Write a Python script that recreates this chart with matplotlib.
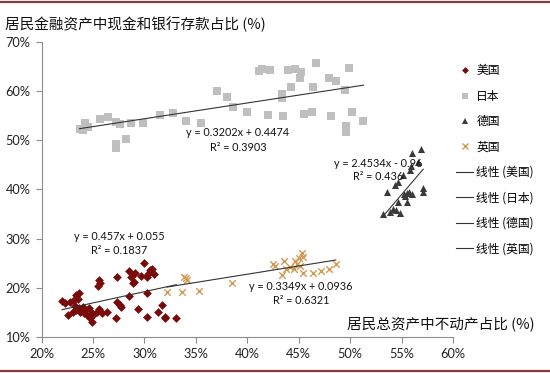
import matplotlib
matplotlib.use("Agg")
import matplotlib.pyplot as plt
from matplotlib.lines import Line2D
import numpy as np

plt.rcParams['font.family'] = ['Lato', 'Noto Sans CJK SC', 'DejaVu Sans']

# ---------------- data (percent) ----------------
us_x = [22.0, 22.3, 22.8, 23.2, 23.4, 23.6, 23.5, 22.6, 23.1, 23.4, 23.6, 23.7, 23.8, 24.1, 24.2,
        24.4, 24.7, 24.9, 24.9, 25.0, 24.6, 25.4, 25.6, 25.9, 26.4, 25.6, 25.7, 25.5, 27.3, 27.3,
        27.7, 27.6, 27.2, 28.5, 28.7, 29.1, 28.9, 29.0, 30.0, 29.7, 30.4, 30.5, 30.7, 30.9, 30.3,
        28.5, 30.3, 29.4, 30.3, 31.3, 32.0, 32.0, 33.1, 31.7, 24.0, 23.3]
us_y = [17.4, 17.0, 17.2, 17.6, 18.5, 18.9, 17.8, 14.5, 15.1, 15.5, 15.8, 15.1, 15.4, 14.8, 15.5,
        14.5, 13.8, 13.1, 14.8, 14.5, 15.8, 15.1, 15.6, 14.9, 15.1, 21.6, 20.9, 20.3, 22.2, 17.2,
        16.1, 16.6, 13.8, 23.4, 22.1, 23.0, 20.9, 21.2, 25.0, 22.4, 22.9, 23.6, 23.9, 22.9, 22.1,
        18.3, 18.9, 15.6, 14.1, 15.1, 14.1, 13.9, 13.8, 16.6, 16.0, 16.4]

jp_x = [23.7, 24.2, 24.0, 24.5, 25.7, 26.5, 27.2, 27.2, 27.2, 27.6, 28.2, 28.7, 29.9, 31.5, 32.8,
        34.0, 35.5, 37.1, 38.0, 38.6, 40.0, 41.1, 41.4, 42.2, 42.0, 44.0, 44.6, 45.2, 45.1, 46.7,
        49.9, 44.3, 43.4, 43.4, 46.4, 47.9, 48.6, 49.5, 43.5, 45.5, 46.3, 48.1, 50.2, 51.3, 49.6,
        49.6]
jp_y = [52.2, 53.4, 52.0, 52.6, 54.2, 54.6, 53.6, 48.5, 49.2, 53.2, 50.2, 53.4, 53.5, 55.2, 55.5,
        53.8, 53.5, 59.9, 58.7, 56.7, 55.7, 64.0, 64.4, 64.3, 55.2, 64.2, 64.4, 63.8, 62.7, 65.6,
        64.6, 60.7, 59.3, 58.5, 60.7, 62.6, 62.0, 60.1, 55.0, 55.4, 55.8, 54.9, 55.7, 53.9, 52.9,
        51.6]

de_x = [56.0, 56.9, 56.6, 55.1, 55.8, 55.9, 54.4, 54.7, 53.6, 55.2, 55.5, 55.7, 56.0, 57.1, 57.1,
        54.7, 55.5, 54.2, 54.5, 54.8, 53.9, 53.2, 55.3]
de_y = [47.4, 48.1, 45.5, 43.0, 43.9, 44.8, 40.8, 41.5, 39.5, 39.0, 39.3, 39.5, 39.1, 40.2, 39.5,
        37.4, 37.4, 36.1, 35.8, 35.1, 35.4, 34.9, 38.6]

uk_x = [32.2, 33.7, 33.9, 34.1, 34.0, 35.3, 38.5, 42.5, 42.7, 43.6, 43.4, 43.8, 44.2, 44.6, 44.8,
        45.0, 45.3, 45.4, 45.1, 44.5, 45.4, 46.4, 47.2, 47.9, 48.6]
uk_y = [19.2, 19.1, 22.2, 21.6, 21.9, 19.3, 21.0, 24.9, 24.4, 25.5, 22.6, 23.9, 24.3, 25.5, 24.8,
        26.0, 27.0, 26.3, 24.4, 23.9, 23.1, 23.1, 23.4, 23.9, 24.8]

# trend-line coefficients shown in the chart (fraction units)
us_fit = (0.457, 0.055, 0.1837)
jp_fit = (0.3202, 0.4474, 0.3903)
de_fit = (2.4534, -0.96, 0.436)
uk_fit = (0.3349, 0.0936, 0.6321)

eq_texts = {
    'us': ("y = 0.457x + 0.055", "R² = 0.1837"),
    'jp': ("y = 0.3202x + 0.4474", "R² = 0.3903"),
    'de': ("y = 2.4534x - 0.96", "R² = 0.436"),
    'uk': ("y = 0.3349x + 0.0936", "R² = 0.6321"),
}

names = ['美国', '日本', '德国', '英国']
x_ticks = [20, 25, 30, 35, 40, 45, 50, 55, 60]
y_ticks = [10, 20, 30, 40, 50, 60, 70]
title = '居民金融资产中现金和银行存款占比 (%)'
xlabel = '居民总资产中不动产占比 (%)'

# ---------------- figure ----------------
W, H = 550, 373
fig = plt.figure(figsize=(W / 100, H / 100), dpi=100)
fig.patch.set_facecolor('white')

def fx(px):
    return px / W

def fy(py):
    return 1 - py / H

ax = fig.add_axes([fx(41.5), fy(337), fx(453) - fx(41.5), fy(41.7) - fy(337)])

c_us = '#7a0a0a'
c_jp = '#bfbfbf'
c_de = '#3a3a3a'
c_uk = '#d39a55'

ax.scatter(us_x, us_y, marker='D', s=20, color=c_us, linewidths=0, zorder=3)
ax.scatter(jp_x, jp_y, marker='s', s=30, color=c_jp, linewidths=0, zorder=3)
ax.scatter(de_x, de_y, marker='^', s=26, color=c_de, linewidths=0, zorder=3)
ax.scatter(uk_x, uk_y, marker='x', s=22, color=c_uk, linewidths=1.0, zorder=3)

def trend(xs, fit):
    a, b, _ = fit
    xx = np.array([min(xs), max(xs)])
    ax.plot(xx, (a * xx / 100 + b) * 100, color='#333333', lw=0.8, zorder=4)

trend(us_x, us_fit)
trend(jp_x, jp_fit)
trend(de_x, de_fit)
trend(uk_x, uk_fit)

ax.set_xlim(20, 60)
ax.set_ylim(10, 70)
ax.set_xticks(x_ticks)
ax.set_yticks(y_ticks)
ax.set_xticklabels([f'{t}%' for t in x_ticks])
ax.set_yticklabels([f'{t}%' for t in y_ticks])
for s in ['top', 'right']:
    ax.spines[s].set_visible(False)
for s in ['left', 'bottom']:
    ax.spines[s].set_color('#8c8c8c')
    ax.spines[s].set_linewidth(0.8)
ax.tick_params(direction='out', length=4, width=0.8, color='#8c8c8c',
               labelsize=9.2, labelcolor='#222222', pad=4)

# equation labels (figure pixel positions)
def eq(key, cx, cy):
    l1, l2 = eq_texts[key]
    fig.text(fx(cx), fy(cy), l1, ha='center', va='center', fontsize=7.8, color='#111111')
    fig.text(fx(cx), fy(cy + 14), l2, ha='center', va='center', fontsize=7.8, color='#111111')

eq('jp', 238, 133)
eq('us', 119, 236)
eq('de', 378, 163)
eq('uk', 301, 287)

# title and x label
fig.text(fx(5), fy(24), title, ha='left', va='center', fontsize=10.5,
         family=['Noto Sans CJK SC', 'DejaVu Sans'], color='#111111')
fig.text(fx(535), fy(325), xlabel, ha='right', va='center', fontsize=10.5,
         family=['Noto Sans CJK SC', 'DejaVu Sans'], color='#111111')

# legend
handles = [
    Line2D([], [], ls='none', marker='D', ms=3.5, color=c_us, mew=0),
    Line2D([], [], ls='none', marker='s', ms=4.5, color=c_jp, mew=0),
    Line2D([], [], ls='none', marker='^', ms=4.5, color=c_de, mew=0),
    Line2D([], [], ls='none', marker='x', ms=4.5, color=c_uk, mew=1.0),
    Line2D([], [], color='#333333', lw=0.8),
    Line2D([], [], color='#333333', lw=0.8),
    Line2D([], [], color='#333333', lw=0.8),
    Line2D([], [], color='#333333', lw=0.8),
]
labels = names + [f'线性 ({n})' for n in names]
leg = fig.legend(handles, labels, loc='upper left',
                 bbox_to_anchor=(fx(448), fy(56)), frameon=False,
                 prop={'family': ['Noto Sans CJK SC', 'DejaVu Sans'], 'size': 8.5},
                 handlelength=1.4, handletextpad=0.3, labelspacing=1.05,
                 borderpad=0.2)

# decorative top / bottom rules
fig.add_artist(Line2D([0, 1], [fy(1.5), fy(1.5)], transform=fig.transFigure,
                      color='#8b3a3a', lw=1.6))
fig.add_artist(Line2D([0, 1], [fy(371), fy(371)], transform=fig.transFigure,
                      color='#8b3a3a', lw=1.6))

fig.savefig('out.png', dpi=100)
